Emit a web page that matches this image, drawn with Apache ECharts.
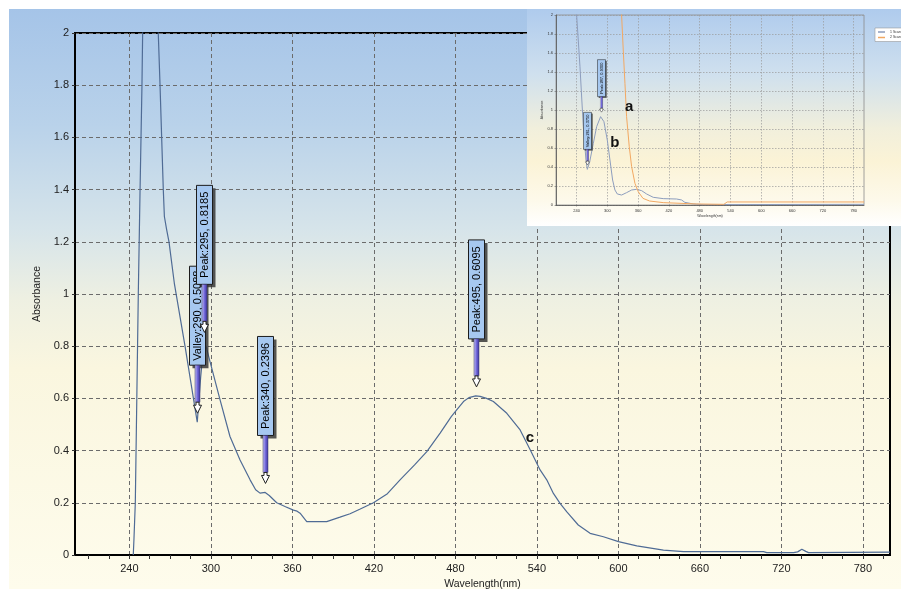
<!DOCTYPE html>
<html>
<head>
<meta charset="utf-8">
<script src="https://cdn.jsdelivr.net/npm/echarts@6/dist/echarts.min.js"></script>
<style>
html, body { margin: 0; padding: 0; background: #ffffff; }
#chart { width: 901px; height: 589px; }
</style>
</head>
<body>
<div id="chart"></div>
<script>
// ---------- main spectrum (curve c) ----------
const cWavelength = [242.9, 243.4, 244.4, 245.5, 246.6, 247.9, 249.3, 249.8, 250.6, 260.4, 261.3, 262.6, 263.8, 265.0, 265.8, 267.5, 269.2, 273.1, 281.0, 290.0, 292.5, 295.0, 297.0, 299.4, 306.8, 314.1, 321.5, 328.9, 333.0, 336.2, 340.0, 343.0, 348.5, 355.0, 360.8, 363.5, 365.7, 370.6, 378.0, 385.3, 395.1, 402.5, 410.0, 419.7, 430.0, 439.3, 450.0, 459.0, 468.8, 477.0, 481.0, 486.0, 490.0, 495.0, 498.2, 503.0, 508.0, 517.9, 527.7, 535.1, 542.4, 547.3, 552.2, 557.1, 562.1, 570.5, 579.2, 589.0, 600.1, 613.6, 633.2, 648.0, 706.8, 709.3, 729.0, 732.0, 735.1, 738.0, 740.0, 800.0];
const cAbsorbance = [0.000, 0.060, 0.200, 0.600, 1.000, 1.400, 1.800, 2.000, 2.200, 2.200, 2.000, 1.800, 1.600, 1.400, 1.297, 1.246, 1.200, 1.042, 0.800, 0.5088, 0.680, 0.8185, 0.790, 0.741, 0.594, 0.454, 0.364, 0.288, 0.250, 0.237, 0.2396, 0.228, 0.200, 0.185, 0.172, 0.168, 0.160, 0.128, 0.128, 0.128, 0.145, 0.158, 0.176, 0.200, 0.235, 0.288, 0.345, 0.396, 0.467, 0.530, 0.556, 0.588, 0.603, 0.6095, 0.608, 0.600, 0.588, 0.543, 0.479, 0.403, 0.326, 0.288, 0.236, 0.198, 0.165, 0.115, 0.083, 0.070, 0.051, 0.035, 0.019, 0.013, 0.013, 0.009, 0.009, 0.012, 0.022, 0.014, 0.009, 0.011];

// annotations of the main spectrum
const annoWavelength = [290, 295, 340, 495];
const annoAbsorbance = [0.5088, 0.8185, 0.2396, 0.6095];
const annoText = ['Valley:290, 0.5088', 'Peak:295, 0.8185', 'Peak:340, 0.2396', 'Peak:495, 0.6095'];

// curve letter of the main spectrum
const mainLetterX = [535];
const mainLetterY = [0.447];
const mainLetterText = ['c'];

// ---------- inset spectra ----------
const bWavelength = [239.5, 240.2, 246.7, 253.2, 258.4, 261.0, 265.5, 272.7, 279.2, 286.9, 293.4, 299.9, 305.1, 310.3, 314.8, 319.4, 327.8, 337.5, 347.3, 357.0, 366.8, 376.5, 389.4, 408.9, 434.8, 444.6, 451.0, 467.3, 486.7, 800.0];
const bAbsorbance = [2.3, 2.0, 1.456, 0.825, 0.474, 0.375, 0.45, 0.649, 0.825, 0.93, 0.877, 0.684, 0.474, 0.263, 0.158, 0.116, 0.105, 0.13, 0.158, 0.165, 0.151, 0.116, 0.081, 0.067, 0.063, 0.053, 0.028, 0.011, 0.004, 0.007];
const aWavelength = [327.0, 327.8, 331.0, 334.3, 337.5, 342.7, 347.3, 353.8, 360.2, 369.4, 382.3, 408.9, 473.8, 527.0, 533.4, 800.0];
const aAbsorbance = [2.3, 2.0, 1.632, 1.281, 0.93, 0.614, 0.404, 0.228, 0.14, 0.07, 0.042, 0.025, 0.011, 0.007, 0.032, 0.032];

const insetAnnoWavelength = [261, 287];
const insetAnnoAbsorbance = [0.375, 0.93];
const insetAnnoText = ['Valley:261, 0.3750', 'Peak:287, 0.9300'];

const insetLetterX = [342.7, 314.8];
const insetLetterY = [1.035, 0.656];
const insetLetterText = ['a', 'b'];

const legendNames = ['1 Scan', '2 Scan'];

// ---------- ticks ----------
const xTickLabels = [240, 300, 360, 420, 480, 540, 600, 660, 720, 780];
const xMinorTicks = [210, 225, 240, 255, 270, 285, 300, 315, 330, 345, 360, 375, 390, 405, 420, 435, 450, 465, 480, 495, 510, 525, 540, 555, 570, 585, 600, 615, 630, 645, 660, 675, 690, 705, 720, 735, 750, 765, 780, 795];

// ---------- build ----------
const zip = (xs, ys) => xs.map((x, i) => [x, ys[i]]);
const FONT = '"Liberation Sans", Arial, sans-serif';

function annotationRenderer(texts, g) {
  return function (params, api) {
    const p = api.coord([api.value(0), api.value(1)]);
    const cx = Math.round(p[0]) + 0.5;
    const py = p[1];
    const bx = cx - g.boxW / 2;
    const boxBottom = py - g.boxOffset;
    const boxTop = boxBottom - g.boxH;
    const tip = py - g.tipGap;
    const headTop = tip - g.headH;
    const stemTop = headTop - g.stemH;
    return {
      type: 'group',
      children: [
        { type: 'rect', shape: { x: bx + g.shadow, y: boxTop + g.shadow, width: g.boxW, height: g.boxH },
          style: { fill: 'rgba(45,45,45,0.8)' } },
        { type: 'rect', shape: { x: bx, y: boxTop, width: g.boxW, height: g.boxH },
          style: { fill: '#a6c8f0', stroke: '#1c1c1c', lineWidth: g.lw } },
        { type: 'text', x: bx + g.boxW / 2, y: boxTop + g.boxH / 2, rotation: Math.PI / 2,
          style: { text: texts[params.dataIndex], fill: '#000', font: g.font, align: 'center', verticalAlign: 'middle' } },
        { type: 'rect', shape: { x: cx - g.shaftW / 2, y: boxBottom, width: g.shaftW, height: stemTop - boxBottom },
          style: { fill: { type: 'linear', x: 0, y: 0, x2: 1, y2: 0,
            colorStops: [{ offset: 0, color: '#c9c6f4' }, { offset: 0.5, color: '#7268da' }, { offset: 1, color: '#3a3298' }] },
            stroke: '#3a3a6a', lineWidth: g.lw * 0.5 } },
        { type: 'polygon', shape: { points: [
            [cx - g.stemW / 2, stemTop], [cx + g.stemW / 2, stemTop], [cx + g.stemW / 2, headTop],
            [cx + g.headW / 2, headTop], [cx, tip], [cx - g.headW / 2, headTop], [cx - g.stemW / 2, headTop]] },
          style: { fill: '#ffffff', stroke: '#222', lineWidth: g.lw } }
      ]
    };
  };
}

const mainGeo = { boxW: 16, boxH: 99, boxOffset: 57, tipGap: 9, headH: 8, stemH: 3, headW: 8, stemW: 3, shaftW: 5, shadow: 3, lw: 1, font: '11px ' + FONT };
const insetGeo = { boxW: 8, boxH: 37, boxOffset: 20, tipGap: 4.5, headH: 3, stemH: 1, headW: 4, stemW: 1.5, shaftW: 2.2, shadow: 1.2, lw: 0.5, font: '4px ' + FONT };

const chart = echarts.init(document.getElementById('chart'), null, { renderer: 'canvas' });

const option = {
  animation: false,
  backgroundColor: '#ffffff',
  graphic: {
    elements: [
      { type: 'rect', z: -10, silent: true, shape: { x: 9, y: 9, width: 892, height: 580 },
        style: { fill: { type: 'linear', x: 0, y: 0, x2: 0, y2: 1, colorStops: [
          { offset: 0, color: '#a5c4e8' }, { offset: 0.2, color: '#b9d2ea' }, { offset: 0.38, color: '#d6e4ea' },
          { offset: 0.5, color: '#eef0e2' }, { offset: 0.62, color: '#faf6df' }, { offset: 1, color: '#fefcec' }] } } },
      { type: 'rect', z: 1, silent: true, shape: { x: 527, y: 9, width: 374, height: 217 },
        style: { fill: { type: 'linear', x: 0, y: 0, x2: 0, y2: 1, colorStops: [
          { offset: 0, color: '#afcbed' }, { offset: 0.3, color: '#cfe0ee' }, { offset: 0.55, color: '#f1efdc' },
          { offset: 0.7, color: '#fbf3d6' }, { offset: 0.88, color: '#fdf9ea' }, { offset: 1, color: '#ffffff' }] } } }
    ]
  },
  legend: {
    data: legendNames, left: 875, top: 28, orient: 'vertical', z: 10,
    itemWidth: 7, itemHeight: 1.5, itemGap: 1.5, icon: 'rect', padding: [2, 3],
    backgroundColor: '#ffffff', borderColor: '#888', borderWidth: 0.5,
    textStyle: { fontSize: 3.5, color: '#333', fontFamily: FONT }
  },
  grid: [
    { left: 75, top: 33, right: 11, bottom: 34, show: true, borderColor: '#000', borderWidth: 2,
      backgroundColor: 'transparent', containLabel: false, outerBoundsMode: 'none', z: 0 },
    { left: 556, top: 15, width: 308, height: 190, show: true, borderColor: '#8a8a8a', borderWidth: 0.8,
      backgroundColor: 'transparent', containLabel: false, outerBoundsMode: 'none', z: 3 }
  ],
  xAxis: [
    { type: 'value', gridIndex: 0, min: 200, max: 800, position: 'bottom',
      name: 'Wavelength(nm)', nameLocation: 'middle', nameGap: 23,
      nameTextStyle: { fontSize: 10.5, color: '#222', fontFamily: FONT },
      axisLine: { show: true, onZero: false, lineStyle: { color: '#000', width: 2 } },
      axisTick: { show: true, length: 4, customValues: xMinorTicks, lineStyle: { color: '#333', width: 1 } },
      axisLabel: { show: true, customValues: xTickLabels, margin: 8, fontSize: 11, color: '#222', fontFamily: FONT },
      splitLine: { show: false } },
    { type: 'value', gridIndex: 0, min: 200, max: 800,
      axisLine: { show: false }, axisLabel: { show: false },
      axisTick: { show: false, customValues: xTickLabels },
      splitLine: { show: true, lineStyle: { color: '#6b6b6b', width: 1, type: [4, 3] } } },
    { type: 'value', gridIndex: 1, min: 200, max: 800, position: 'bottom', z: 4,
      name: 'Wavelength(nm)', nameLocation: 'middle', nameGap: 8,
      nameTextStyle: { fontSize: 3.5, color: '#333', fontFamily: FONT },
      axisLine: { show: true, onZero: false, lineStyle: { color: '#555', width: 0.8 } },
      axisTick: { show: true, length: 1.5, customValues: xTickLabels, lineStyle: { color: '#555', width: 0.5 } },
      axisLabel: { show: true, customValues: xTickLabels, margin: 4, fontSize: 4, color: '#333', fontFamily: FONT },
      splitLine: { show: true, lineStyle: { color: '#9a9a9a', width: 0.7, type: [1.5, 1.5] } } }
  ],
  yAxis: [
    { type: 'value', gridIndex: 0, min: 0, max: 2, interval: 0.2,
      name: 'Absorbance', nameLocation: 'middle', nameGap: 26,
      nameTextStyle: { fontSize: 10.5, color: '#222', fontFamily: FONT },
      axisLine: { show: true, lineStyle: { color: '#000', width: 2 } },
      axisTick: { show: true, length: 3, lineStyle: { color: '#333', width: 1 } },
      axisLabel: { margin: 6, fontSize: 11, color: '#222', fontFamily: FONT },
      splitLine: { show: true, lineStyle: { color: '#6b6b6b', width: 1, type: [4, 3] } } },
    { type: 'value', gridIndex: 1, min: 0, max: 2, interval: 0.2, z: 4,
      name: 'Absorbance', nameLocation: 'middle', nameGap: 12,
      nameTextStyle: { fontSize: 3.5, color: '#333', fontFamily: FONT },
      axisLine: { show: true, lineStyle: { color: '#555', width: 0.8 } },
      axisTick: { show: true, length: 1.5, lineStyle: { color: '#555', width: 0.5 } },
      axisLabel: { margin: 3, fontSize: 4, color: '#333', fontFamily: FONT },
      splitLine: { show: true, lineStyle: { color: '#9a9a9a', width: 0.7, type: [1.5, 1.5] } } }
  ],
  series: [
    { type: 'line', name: 'c', xAxisIndex: 0, yAxisIndex: 0, data: zip(cWavelength, cAbsorbance),
      showSymbol: false, symbol: 'none', clip: true, silent: true, z: 2,
      lineStyle: { color: '#4f6b95', width: 1.2 } },
    { type: 'custom', xAxisIndex: 0, yAxisIndex: 0, z: 5, silent: true,
      data: zip(annoWavelength, annoAbsorbance),
      renderItem: annotationRenderer(annoText, mainGeo) },
    { type: 'scatter', xAxisIndex: 0, yAxisIndex: 0, z: 6, silent: true, symbolSize: 1,
      itemStyle: { color: 'rgba(0,0,0,0)' },
      data: mainLetterX.map((x, i) => [x, mainLetterY[i], mainLetterText[i]]),
      label: { show: true, position: 'inside', formatter: p => p.data[2], opacity: 1,
        fontSize: 15, fontWeight: 'bold', color: '#111', fontFamily: FONT } },
    { type: 'line', name: legendNames[0], xAxisIndex: 2, yAxisIndex: 1, data: zip(bWavelength, bAbsorbance),
      showSymbol: false, symbol: 'none', clip: true, silent: true, z: 6,
      itemStyle: { color: '#8d9dbd' }, lineStyle: { color: '#8d9dbd', width: 1 } },
    { type: 'line', name: legendNames[1], xAxisIndex: 2, yAxisIndex: 1, data: zip(aWavelength, aAbsorbance),
      showSymbol: false, symbol: 'none', clip: true, silent: true, z: 6,
      itemStyle: { color: '#f2a862' }, lineStyle: { color: '#f2a862', width: 1 } },
    { type: 'custom', xAxisIndex: 2, yAxisIndex: 1, z: 7, silent: true,
      data: zip(insetAnnoWavelength, insetAnnoAbsorbance),
      renderItem: annotationRenderer(insetAnnoText, insetGeo) },
    { type: 'scatter', xAxisIndex: 2, yAxisIndex: 1, z: 8, silent: true, symbolSize: 1,
      itemStyle: { color: 'rgba(0,0,0,0)' },
      data: insetLetterX.map((x, i) => [x, insetLetterY[i], insetLetterText[i]]),
      label: { show: true, position: 'inside', formatter: p => p.data[2], opacity: 1,
        fontSize: 15, fontWeight: 'bold', color: '#111', fontFamily: FONT } }
  ]
};

chart.setOption(option);
</script>
</body>
</html>
